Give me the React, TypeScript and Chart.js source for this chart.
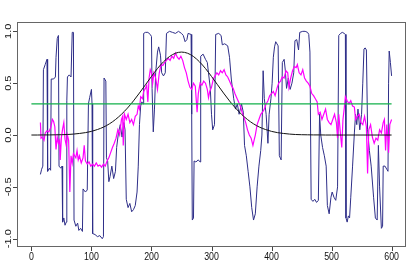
import React, { useEffect, useRef } from 'react';
import { Chart, registerables } from 'chart.js';

Chart.register(...registerables);

const navyX = [15,17,19,20,23,26,27,30,32,33,37,40,41,43,45,46,49,51,52,54,56,58,59,60,63,66,68,70,71,74,77,79,82,85,86,90,93,95,97,100,101,102,106,110,114,118,120,121,124,125,127,129,131,134,137,140,142,145,148,151,154,156,158,161,164,167,170,173,176,178,180,182,184,186,187,190,194,198,200,201,203,205,207,210,212,215,217,220,223,225,230,235,240,245,250,253,256,259,261,266,267,268,270,271,274,278,281,282,286,290,293,295,298,300,302,305,307,312,316,318,322,327,330,333,337,340,343,346,350,353,355,358,361,364,367,370,373,376,379,382,384,386,388,391,394,396,399,401,403,405,407,411,413,416,418,421,423,425,428,431,434,437,439,442,445,447,452,456,460,462,464,466,469,472,475,478,480,482,485,488,491,493,496,499,501,504,507,510,512,515,518,521,523,524,526,528,530,532,535,538,540,542,544,547,550,552,554,556,558,560,563,566,570,573,576,578,580,583,585,586,589,592,594,595,596,598,600];
const navyY = [-0.38,-0.33,-0.30,0.63,0.68,0.73,-0.35,-0.32,-0.34,0.54,0.54,0.56,0.75,0.93,0.96,-0.30,-0.32,-0.30,-0.84,-0.80,-0.87,-0.84,0.33,0.56,0.58,0.56,0.99,0.99,-0.82,-0.88,-0.85,-0.92,-0.90,-0.93,-0.52,-0.55,-0.53,0.30,0.36,0.44,0.30,-0.95,-0.96,-0.98,-0.97,-1.0,-0.98,0.55,0.52,-0.22,-0.25,-0.45,-0.40,-0.30,-0.42,-0.35,-0.12,0.02,0.10,-0.02,0.12,0.05,-0.62,-0.70,-0.66,-0.74,-0.72,-0.68,-0.55,-0.30,0.10,0.28,0.32,0.30,0.98,0.99,0.99,0.97,0.95,0.45,0.03,0.25,0.60,0.80,0.85,0.77,0.60,0.57,0.60,0.98,1.0,0.99,0.98,1.0,0.98,0.96,0.90,0.92,0.98,0.97,0.20,-0.82,-0.80,-0.25,-0.26,-0.24,-0.26,0.76,0.78,0.73,0.70,0.60,0.45,0.20,0.05,0.10,0.97,0.98,0.96,0.87,0.88,0.86,0.75,0.54,0.35,0.25,0.30,0.20,0.30,0.22,-0.10,-0.20,-0.35,-0.50,-0.70,-0.82,-0.76,-0.50,-0.30,-0.15,0.0,0.62,0.35,0.20,-0.08,0.20,0.35,0.50,0.75,0.85,0.90,0.86,-0.20,-0.24,0.70,0.73,0.62,0.45,0.55,0.44,0.50,0.60,0.91,0.92,0.82,0.99,1.0,1.0,0.99,0.97,0.80,-0.62,-0.64,-0.62,-0.65,-0.63,0.20,0.0,-0.12,-0.20,-0.30,-0.68,-0.76,-0.60,-0.55,-0.60,-0.63,-0.50,0.96,0.98,0.99,0.98,0.97,-0.80,-0.84,-0.78,-0.80,-0.60,-0.30,0.02,0.20,0.10,0.25,0.05,0.20,0.50,0.83,0.84,0.82,0.05,-0.15,-0.30,-0.60,-0.80,-0.82,-0.10,-0.50,-0.90,-0.88,-0.30,-0.30,-0.33,-0.35,0.50,0.81,0.70,0.57];

const magentaX = [15,16,18,21,23,26,29,32,35,37,39,41,43,45,47,48,50,52,54,56,58,60,62,64,66,68,70,72,74,76,78,80,83,86,88,90,93,96,99,102,105,108,111,114,117,120,123,126,129,132,135,138,141,144,147,150,152,153,155,158,161,164,167,170,173,176,178,180,182,185,187,190,192,194,196,198,200,202,204,207,210,213,216,219,222,225,228,231,234,237,240,243,246,249,252,255,258,261,264,267,270,273,276,278,281,284,287,290,293,295,297,300,303,306,309,312,315,318,321,324,327,330,333,336,339,342,345,348,351,354,357,360,363,366,369,371,373,376,379,382,385,388,391,394,397,400,403,406,409,412,415,418,421,424,427,429,432,435,438,441,443,446,449,452,455,458,461,464,467,470,473,476,478,481,484,487,490,493,496,499,502,505,508,510,512,515,517,519,521,523,526,529,532,535,538,540,543,546,549,552,555,558,560,562,565,568,571,574,577,580,583,586,588,590,592,594,595,597,600];
const magentaY = [0.12,-0.03,-0.02,-0.05,0.02,0.04,0.03,0.07,0.15,0.13,0.08,-0.14,-0.02,-0.08,-0.05,-0.24,-0.02,0.06,0.12,-0.04,-0.10,0.0,-0.05,-0.55,-0.20,-0.27,-0.18,-0.20,-0.22,-0.15,-0.24,-0.20,-0.27,-0.22,-0.10,-0.25,-0.28,-0.26,-0.30,-0.28,-0.30,-0.27,-0.30,-0.29,-0.31,-0.28,-0.30,-0.25,-0.22,-0.17,-0.12,-0.08,-0.03,0.05,0.0,0.15,0.18,-0.10,0.20,0.15,0.20,0.12,0.15,0.10,0.18,0.20,0.28,0.25,0.37,0.35,0.42,0.45,0.48,0.32,0.55,0.63,0.60,0.50,0.60,0.55,0.44,0.60,0.68,0.67,0.70,0.72,0.74,0.72,0.76,0.74,0.79,0.75,0.73,0.76,0.72,0.65,0.60,0.52,0.46,0.44,0.50,0.47,0.22,0.40,0.50,0.48,0.52,0.50,0.44,0.36,0.42,0.46,0.54,0.57,0.60,0.58,0.62,0.60,0.63,0.58,0.56,0.52,0.48,0.45,0.40,0.36,0.32,0.28,0.22,0.17,0.12,0.05,0.0,-0.03,-0.10,-0.05,0.0,0.10,0.15,0.20,0.22,0.25,0.30,0.33,0.38,0.40,0.42,0.38,0.45,0.50,0.52,0.56,0.55,0.62,0.60,0.46,0.55,0.62,0.66,0.65,0.68,0.60,0.58,0.63,0.55,0.52,0.50,0.47,0.40,0.38,0.35,0.32,0.20,0.22,0.15,0.20,0.25,0.15,0.12,0.10,0.15,0.20,0.12,-0.03,0.20,0.0,-0.12,0.15,0.25,0.37,0.33,0.30,0.33,0.28,0.27,0.15,0.18,0.20,0.12,0.10,0.18,0.08,-0.37,0.05,0.10,-0.02,-0.08,-0.03,-0.05,0.05,0.02,0.12,0.15,-0.15,0.10,-0.05,-0.17,0.10,0.15];

const curveX = [0,10,20,30,40,50,60,70,80,90,100,110,120,130,140,150,160,170,180,190,200,210,220,230,240,250,260,270,280,290,300,310,320,330,340,350,360,370,380,390,400,410,420,430,440,450,460,470,480,490,500,520,540,560,580,600];
const curveY = [0,0,0.001,0.001,0.002,0.003,0.005,0.009,0.015,0.023,0.035,0.053,0.076,0.108,0.149,0.2,0.26,0.329,0.405,0.485,0.565,0.641,0.706,0.757,0.789,0.8,0.789,0.757,0.706,0.641,0.565,0.485,0.405,0.329,0.26,0.2,0.149,0.108,0.076,0.053,0.035,0.023,0.015,0.009,0.005,0.003,0.002,0.001,0.001,0,0,0,0,0,0,0];

const levelX = [0, 600];
const levelY = [0.3, 0.3];

const xTicks = [0, 100, 200, 300, 400, 500, 600];
const xTickLabels = ['0', '100', '200', '300', '400', '500', '600'];
const yTicks = [-1, -0.5, 0, 0.5, 1];
const yTickLabels = ['-1.0', '-0.5', '0.0', '0.5', '1.0'];

const pts = (xs: number[], ys: number[]) => xs.map((x, i) => ({ x, y: ys[i] }));

const axesPlugin = {
  id: 'rAxes',
  afterDraw(chart: any) {
    const { ctx, chartArea: a, scales } = chart;
    const xs = scales.x;
    const ys = scales.y;
    ctx.save();
    ctx.strokeStyle = '#666';
    ctx.lineWidth = 1;
    ctx.strokeRect(a.left + 0.5, a.top + 0.5, a.right - a.left - 1, a.bottom - a.top - 1);
    ctx.strokeStyle = '#444';
    ctx.beginPath();
    xTicks.forEach((t) => {
      const px = Math.round(xs.getPixelForValue(t)) + 0.5;
      ctx.moveTo(px, a.bottom);
      ctx.lineTo(px, a.bottom + 4);
    });
    yTicks.forEach((t) => {
      const py = Math.round(ys.getPixelForValue(t)) + 0.5;
      ctx.moveTo(a.left, py);
      ctx.lineTo(a.left - 4, py);
    });
    ctx.stroke();
    ctx.fillStyle = '#111';
    ctx.font = '11px "Liberation Sans", Arial, sans-serif';
    ctx.textAlign = 'center';
    ctx.textBaseline = 'middle';
    xTicks.forEach((t, i) => {
      const px = xs.getPixelForValue(t);
      ctx.save();
      ctx.translate(px, a.bottom + 10);
      ctx.scale(0.8, 1);
      ctx.fillText(xTickLabels[i], 0, 0);
      ctx.restore();
    });
    yTicks.forEach((t, i) => {
      const py = ys.getPixelForValue(t);
      ctx.save();
      ctx.translate(a.left - 8, py);
      ctx.scale(0.8, 1);
      ctx.rotate(-Math.PI / 2);
      ctx.fillText(yTickLabels[i], 0, 0);
      ctx.restore();
    });
    ctx.restore();
  },
};

export default function App() {
  const ref = useRef<HTMLCanvasElement | null>(null);
  useEffect(() => {
    if (!ref.current) return;
    const chart = new Chart(ref.current, {
      type: 'line',
      data: {
        datasets: [
          { data: pts(levelX, levelY), borderColor: '#12b04a', borderWidth: 1.3, pointRadius: 0, tension: 0, order: 0 },
          { data: pts(curveX, curveY), borderColor: '#111111', borderWidth: 1, pointRadius: 0, tension: 0.4, cubicInterpolationMode: 'monotone', order: 1 },
          { data: pts(magentaX, magentaY), borderColor: '#ff00ff', borderWidth: 1.2, pointRadius: 0, tension: 0, order: 2 },
          { data: pts(navyX, navyY), borderColor: '#2e2e88', borderWidth: 1, pointRadius: 0, tension: 0, order: 3 },
        ],
      },
      options: {
        responsive: false,
        animation: false,
        layout: { padding: { left: 17, right: 9, top: 22, bottom: 30 } },
        plugins: { legend: { display: false }, tooltip: { enabled: false } },
        scales: {
          x: { type: 'linear', min: -24, max: 624, display: false },
          y: { type: 'linear', min: -1.08, max: 1.09, display: false },
        },
      },
      plugins: [axesPlugin],
    } as any);
    return () => chart.destroy();
  }, []);
  return (
    <div style={{ position: 'fixed', left: 0, top: 0, width: 415, height: 277, background: '#fff' }}>
      <canvas ref={ref} width={415} height={277} style={{ display: 'block' }} />
    </div>
  );
}
